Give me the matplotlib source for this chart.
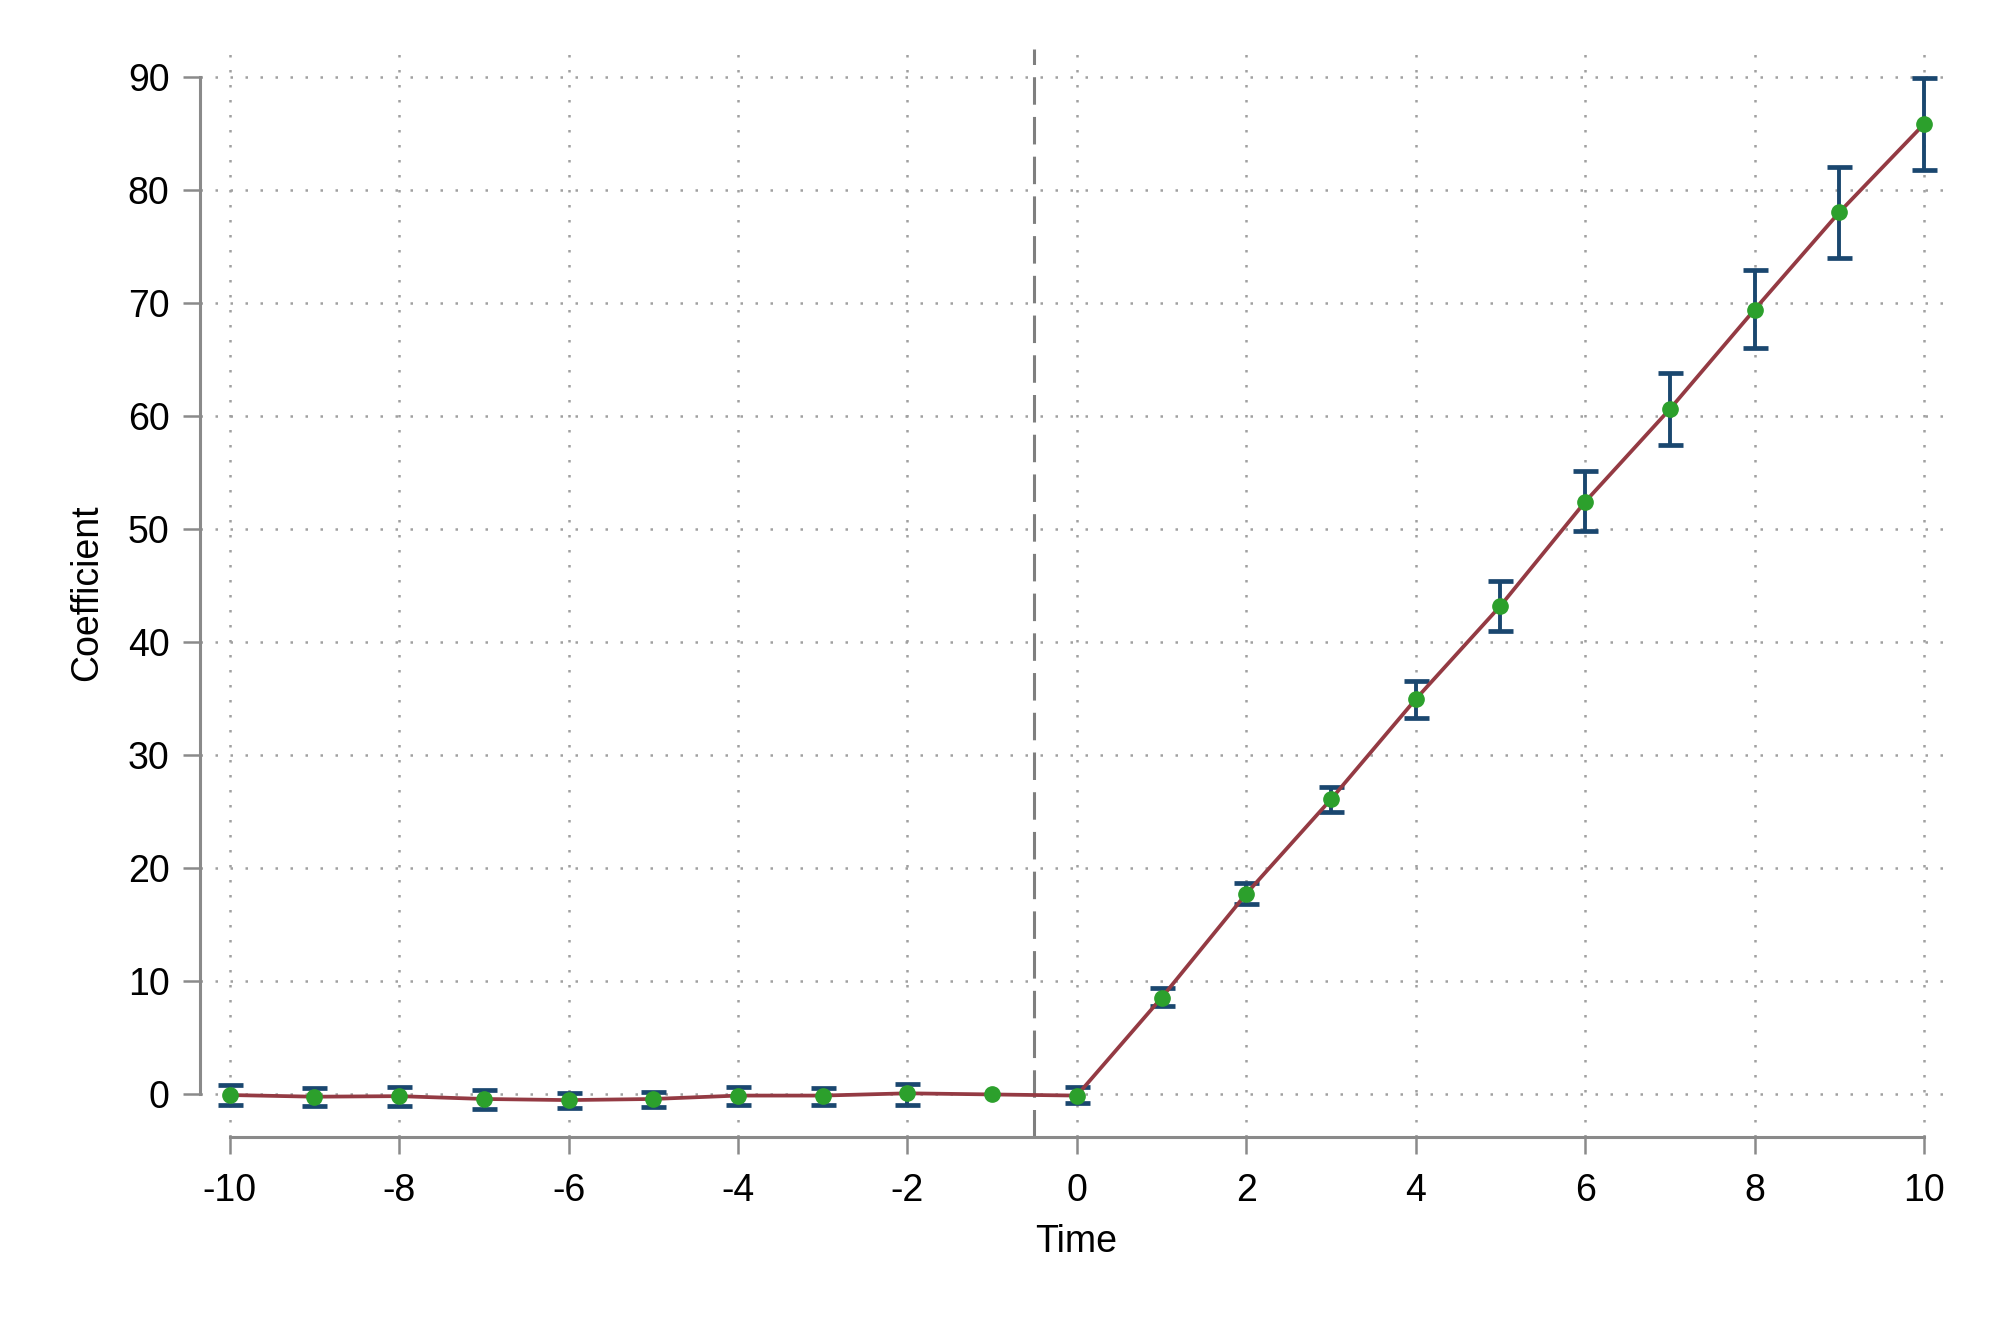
import matplotlib
matplotlib.use("Agg")
import matplotlib.pyplot as plt
from matplotlib import font_manager

# ---- data ----
time = [-10, -9, -8, -7, -6, -5, -4, -3, -2, -1, 0, 1, 2, 3, 4, 5, 6, 7, 8, 9, 10]
coef = [-0.05, -0.2, -0.15, -0.4, -0.5, -0.4, -0.1, -0.1, 0.1, 0.0, -0.1,
        8.55, 17.75, 26.1, 34.95, 43.2, 52.4, 60.6, 69.4, 78.0, 85.8]
ci_low = [-0.95, -1.0, -1.0, -1.3, -1.2, -1.1, -0.95, -0.9, -0.9, None, -0.8,
          7.8, 16.8, 25.0, 33.3, 41.0, 49.8, 57.4, 66.0, 74.0, 81.7]
ci_high = [0.85, 0.55, 0.65, 0.4, 0.15, 0.25, 0.65, 0.6, 0.95, None, 0.7,
           9.45, 18.7, 27.2, 36.6, 45.4, 55.1, 63.8, 72.9, 82.0, 89.9]
xticks = [-10, -8, -6, -4, -2, 0, 2, 4, 6, 8, 10]
yticks = [0, 10, 20, 30, 40, 50, 60, 70, 80, 90]
event_line = -0.5

names = {f.name for f in font_manager.fontManager.ttflist}
fam = ["Liberation Sans Narrow", "Liberation Sans", "DejaVu Sans"]
fam = [f for f in fam if f in names] or ["DejaVu Sans"]
plt.rcParams["font.family"] = fam

fig = plt.figure(figsize=(20, 13.33), dpi=100)
ax = fig.add_axes([0.1, 0.1474, 0.876, 0.8162])

gray = "#8a8a8a"
# grid
for t in xticks:
    ax.axvline(t, color="#a0a0a0", lw=1.8, ls=(0, (1, 5)), zorder=0)
for t in yticks:
    ax.axhline(t, color="#a0a0a0", lw=1.8, ls=(0, (1, 5)), zorder=0)

ax.axvline(event_line, color="#7f7f7f", lw=2.2, ls=(0, (9, 4)), zorder=1)

# error bars
ex, elo, ehi = [], [], []
for t, l, h in zip(time, ci_low, ci_high):
    if l is not None:
        ex.append(t); elo.append(l); ehi.append(h)
ax.vlines(ex, elo, ehi, color="#1a476f", lw=2.8, zorder=2)
ax.plot(ex, elo, ls="none", marker="_", ms=18, mew=3.4, color="#1a476f", zorder=2)
ax.plot(ex, ehi, ls="none", marker="_", ms=18, mew=3.4, color="#1a476f", zorder=2)

ax.plot(time, coef, color="#943a43", lw=2.7, zorder=3)
ax.plot(time, coef, ls="none", marker="o", ms=11, color="#2ca02c", mec="#2ca02c", zorder=4)

ax.set_xlim(-10.35, 10.33)
ax.set_ylim(-3.72, 92.48)

for s in ["top", "right"]:
    ax.spines[s].set_visible(False)
for s in ["left", "bottom"]:
    ax.spines[s].set_color(gray)
    ax.spines[s].set_linewidth(2.2)
ax.spines["left"].set_bounds(0, 90)
ax.spines["bottom"].set_bounds(-10, 10)

ax.set_xticks(xticks)
ax.set_yticks(yticks)
ax.set_xticklabels([str(t) for t in xticks])
ax.set_yticklabels([str(t) for t in yticks])
ax.tick_params(axis="both", direction="out", length=12, width=1.8, color=gray,
               labelsize=27)
ax.tick_params(axis="x", pad=14)
ax.tick_params(axis="y", pad=10)
ax.set_xlabel("Time", fontsize=27, labelpad=11)
ax.set_ylabel("Coefficient", fontsize=27, labelpad=16)

fig.savefig("out.png", dpi=100, facecolor="white")
